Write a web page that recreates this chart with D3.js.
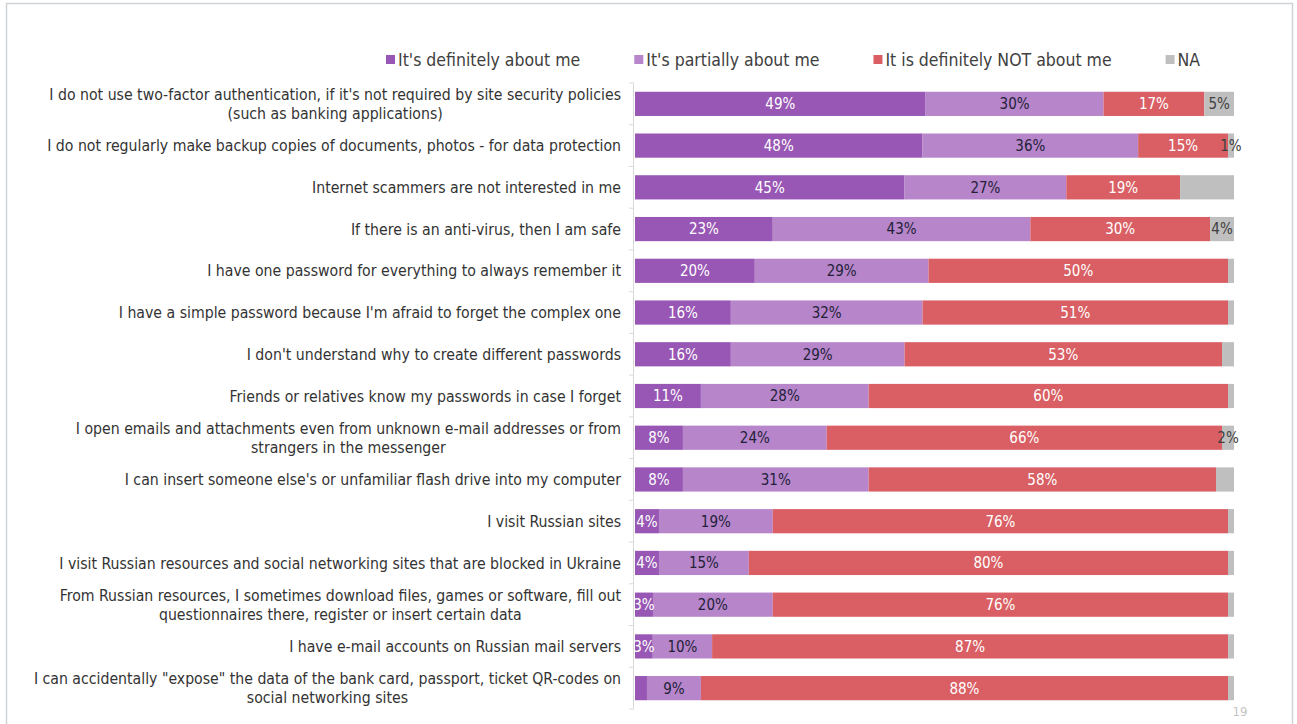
<!DOCTYPE html>
<html>
<head>
<meta charset="utf-8">
<script src="https://cdn.jsdelivr.net/npm/d3@7"></script>
<style>
  html, body { margin: 0; padding: 0; background: #fff; }
  svg { display: block; }
</style>
</head>
<body>
<svg id="chart" width="1297" height="724"></svg>
<script>
// Survey statements (line breaks mark wrapped labels)
const categories = [
  "I do not use two-factor authentication, if it's not required by site security policies\n(such as banking applications)",
  "I do not regularly make backup copies of documents, photos - for data protection",
  "Internet scammers are not interested in me",
  "If there is an anti-virus, then I am safe",
  "I have one password for everything to always remember it",
  "I have a simple password because I'm afraid to forget the complex one",
  "I don't understand why to create different passwords",
  "Friends or relatives know my passwords in case I forget",
  "I open emails and attachments even from unknown e-mail addresses or from\nstrangers in the messenger",
  "I can insert someone else's or unfamiliar flash drive into my computer",
  "I visit Russian sites",
  "I visit Russian resources and social networking sites that are blocked in Ukraine",
  "From Russian resources, I sometimes download files, games or software, fill out\nquestionnaires there, register or insert certain data",
  "I have e-mail accounts on Russian mail servers",
  "I can accidentally \"expose\" the data of the bank card, passport, ticket QR-codes on\nsocial networking sites"
];

const seriesNames = ["It's definitely about me", "It's partially about me", "It is definitely NOT about me", "NA"];

// Percent of respondents per answer
const definitely   = [49, 48, 45, 23, 20, 16, 16, 11, 8, 8, 4, 4, 3, 3, 2];
const partially    = [30, 36, 27, 43, 29, 32, 29, 28, 24, 31, 19, 15, 20, 10, 9];
const definitelyNot= [17, 15, 19, 30, 50, 51, 53, 60, 66, 58, 76, 80, 76, 87, 88];
const notAnswered  = [5, 1, 9, 4, 1, 1, 2, 1, 2, 3, 1, 1, 1, 1, 1];

// Which segments carry a printed value: [definitely, partially, not, NA]
const labelShown = [
  [1,1,1,1],[1,1,1,1],[1,1,1,0],[1,1,1,1],[1,1,1,0],
  [1,1,1,0],[1,1,1,0],[1,1,1,0],[1,1,1,1],[1,1,1,0],
  [1,1,1,0],[1,1,1,0],[1,1,1,0],[1,1,1,0],[0,1,1,0]
];

const colors = ["#9857b4", "#b685ca", "#d95f64", "#bfbfbf"];
const labelColors = ["#ffffff", "#231f38", "#ffffff", "#404040"];

const keys = ["d", "p", "n", "na"];
const rows = categories.map((c, i) => ({
  cat: c, idx: i,
  d: definitely[i], p: partially[i], n: definitelyNot[i], na: notAnswered[i]
}));

const svg = d3.select("#chart");
const font = "'DejaVu Sans Condensed', 'DejaVu Sans', sans-serif";

// Slide frame
svg.append("rect")
  .attr("x", 6.5).attr("y", 3.5).attr("width", 1286).attr("height", 740)
  .attr("fill", "none").attr("stroke", "#cfd3d6").attr("stroke-width", 1.5);

const plotLeft = 635, plotRight = 1234;
const x = d3.scaleLinear().domain([0, 1]).range([plotLeft, plotRight]);
const y = d3.scaleBand().domain(categories).range([83, 709]).paddingInner(0.42).paddingOuter(0.21);

const stack = d3.stack().keys(keys).offset(d3.stackOffsetExpand);
const stacked = stack(rows);

// Bars
const layers = svg.append("g").selectAll("g")
  .data(stacked).join("g")
  .attr("fill", (d, i) => colors[i]);

layers.selectAll("rect")
  .data(d => d).join("rect")
  .attr("x", d => x(d[0]))
  .attr("width", d => Math.max(0, x(d[1]) - x(d[0])))
  .attr("y", d => y(d.data.cat))
  .attr("height", y.bandwidth());

// Value labels, clipped at the category axis
svg.append("clipPath").attr("id", "plotClip")
  .append("rect").attr("x", plotLeft).attr("y", 0).attr("width", 700).attr("height", 724);

const labelG = svg.append("g").attr("clip-path", "url(#plotClip)")
  .style("font-family", font).style("font-size", "15px");

stacked.forEach((layer, si) => {
  labelG.selectAll(null)
    .data(layer.filter(d => labelShown[d.data.idx][si]))
    .join("text")
    .attr("x", d => (x(d[0]) + x(d[1])) / 2)
    .attr("y", d => y(d.data.cat) + y.bandwidth() / 2)
    .attr("dy", "0.36em")
    .attr("text-anchor", "middle")
    .attr("fill", labelColors[si])
    .text(d => d.data[keys[si]] + "%");
});

// Category axis with tick marks between rows
const axisG = svg.append("g").attr("stroke", "#d9d9d9").attr("stroke-width", 1);
axisG.append("line")
  .attr("x1", plotLeft - 1.5).attr("x2", plotLeft - 1.5)
  .attr("y1", y.range()[0]).attr("y2", y.range()[1]);
const bounds = d3.range(categories.length + 1).map(i => y.range()[0] + i * y.step());
axisG.selectAll(null).data(bounds).join("line")
  .attr("x1", plotLeft - 6).attr("x2", plotLeft - 1.5)
  .attr("y1", d => d).attr("y2", d => d);

// Category labels
const catG = svg.append("g")
  .style("font-family", font).style("font-size", "15.7px").attr("fill", "#333333");

categories.forEach(c => {
  const lines = c.split("\n");
  const cy = y(c) + y.bandwidth() / 2;
  const lh = 19;
  const t = catG.append("text").attr("text-anchor", "middle");
  lines.forEach((ln, k) => {
    t.append("tspan").attr("y", cy + (k - (lines.length - 1) / 2) * lh).attr("dy", "0.36em").text(ln);
  });
  // right-align the block, centring the lines against each other
  const w = d3.max(t.selectAll("tspan").nodes(), n => n.getComputedTextLength());
  const cx = 621 - w / 2;
  t.selectAll("tspan").attr("x", cx);
});

// Legend
const legend = svg.append("g").style("font-family", font).style("font-size", "17.5px").attr("fill", "#404040");
let lx = 386;
seriesNames.forEach((name, i) => {
  const g = legend.append("g").attr("transform", `translate(${lx},60)`);
  g.append("rect").attr("x", 0).attr("y", -5).attr("width", 9).attr("height", 9).attr("fill", colors[i]);
  const t = g.append("text").attr("x", 12).attr("dy", "0.36em").text(name);
  lx += 12 + t.node().getComputedTextLength() + 54;
});

// Page number
svg.append("text").attr("x", 1240).attr("y", 716).attr("text-anchor", "middle")
  .style("font-family", font).style("font-size", "13px").attr("fill", "#c4c4c4").text("19");
</script>
</body>
</html>
